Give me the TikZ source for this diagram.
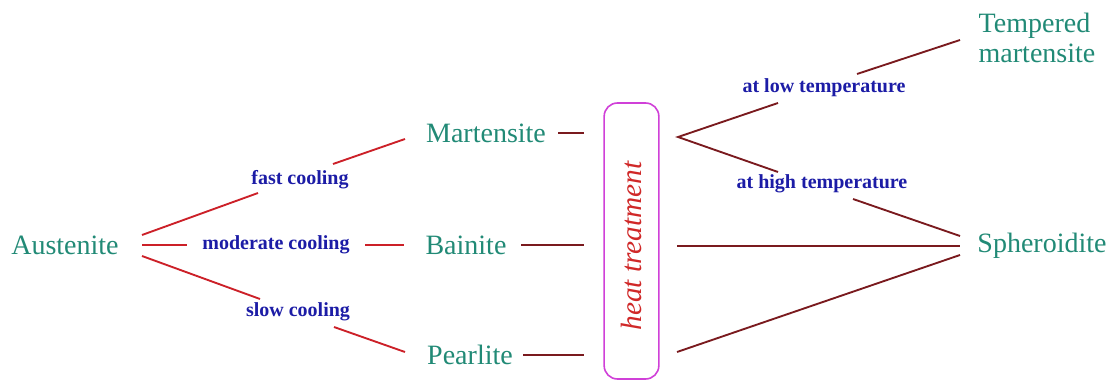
\documentclass[tikz,border=0pt]{standalone}
\usepackage{fontspec}
\setmainfont{Liberation Serif}
\definecolor{phase}{HTML}{218A76}
\definecolor{lbl}{HTML}{1C1CA6}
\definecolor{redline}{HTML}{CC2028}
\definecolor{maroon}{HTML}{7A1A1E}
\definecolor{boxmag}{HTML}{D040D8}
\definecolor{heat}{HTML}{D02828}
\tikzset{
  phasetext/.style={inner sep=0pt, text=phase, font=\fontsize{21}{22.5}\selectfont},
  lbltext/.style={inner sep=0pt, text=lbl, font=\fontsize{15}{18}\selectfont\bfseries},
  redcon/.style={draw=redline, line width=1.4pt},
  darkcon/.style={draw=maroon, line width=1.4pt},
}
\begin{document}
\begin{tikzpicture}[x=0.75pt,y=-0.75pt]
\useasboundingbox (0,0) rectangle (1113,381);
\fill[white] (0,0) rectangle (1113,381);
% phases
\node[phasetext] (aus) at (65,245) {Austenite};
\node[phasetext] (mar) at (486,133) {Martensite};
\node[phasetext] (bai) at (466,245) {Bainite};
\node[phasetext] (pea) at (470,355) {Pearlite};
\node[phasetext, align=left] (tem) at (1037,38) {Tempered\\martensite};
\node[phasetext] (sph) at (1042,246) {Spheroidite};
% labels
\node[lbltext] (fast) at (300,180) {fast cooling};
\node[lbltext] (mod) at (276,245) {moderate cooling};
\node[lbltext] (slow) at (298,312) {slow cooling};
\node[lbltext] (low) at (824,88) {at low temperature};
\node[lbltext] (high) at (822,184) {at high temperature};
% heat treatment box
\node[draw=boxmag, line width=1.2pt, rounded corners=10pt, minimum width=41pt, minimum height=207pt, inner sep=0pt] (box) at (631.5,241) {};
\node[rotate=90, text=heat, inner sep=0pt, font=\fontsize{22}{26}\selectfont\itshape] (ht) at (631,246) {heat treatment};
% connector end points
\coordinate (a1) at (142,235); \coordinate (f1) at (258,193);
\coordinate (f2) at (333,164); \coordinate (m0) at (405,139);
\coordinate (a2) at (142,245); \coordinate (d1) at (187,245);
\coordinate (d2) at (365,245); \coordinate (b0) at (404,245);
\coordinate (a3) at (142,256); \coordinate (s1) at (260,299);
\coordinate (s2) at (334,327); \coordinate (p0) at (405,352);
\coordinate (m1) at (558,133); \coordinate (m2) at (584,133);
\coordinate (b1) at (521,245); \coordinate (b2) at (584,245);
\coordinate (p1) at (523,355); \coordinate (p2) at (584,355);
\coordinate (v) at (678,137);
\coordinate (l1) at (778,103); \coordinate (l2) at (857,74); \coordinate (t0) at (960,40);
\coordinate (h1) at (778,172); \coordinate (h2) at (853,199); \coordinate (sA) at (960,236);
\coordinate (r1) at (677,246); \coordinate (sB) at (960,246);
\coordinate (r2) at (677,352); \coordinate (sC) at (960,255);
% red connectors
\draw[redcon] (a1) -- (f1);
\draw[redcon] (f2) -- (m0);
\draw[redcon] (a2) -- (d1);
\draw[redcon] (d2) -- (b0);
\draw[redcon] (a3) -- (s1);
\draw[redcon] (s2) -- (p0);
% dark connectors
\draw[darkcon] (m1) -- (m2);
\draw[darkcon] (b1) -- (b2);
\draw[darkcon] (p1) -- (p2);
\draw[darkcon] (l1) -- (v) -- (h1);
\draw[darkcon] (l2) -- (t0);
\draw[darkcon] (h2) -- (sA);
\draw[darkcon] (r1) -- (sB);
\draw[darkcon] (r2) -- (sC);
\end{tikzpicture}
\end{document}
